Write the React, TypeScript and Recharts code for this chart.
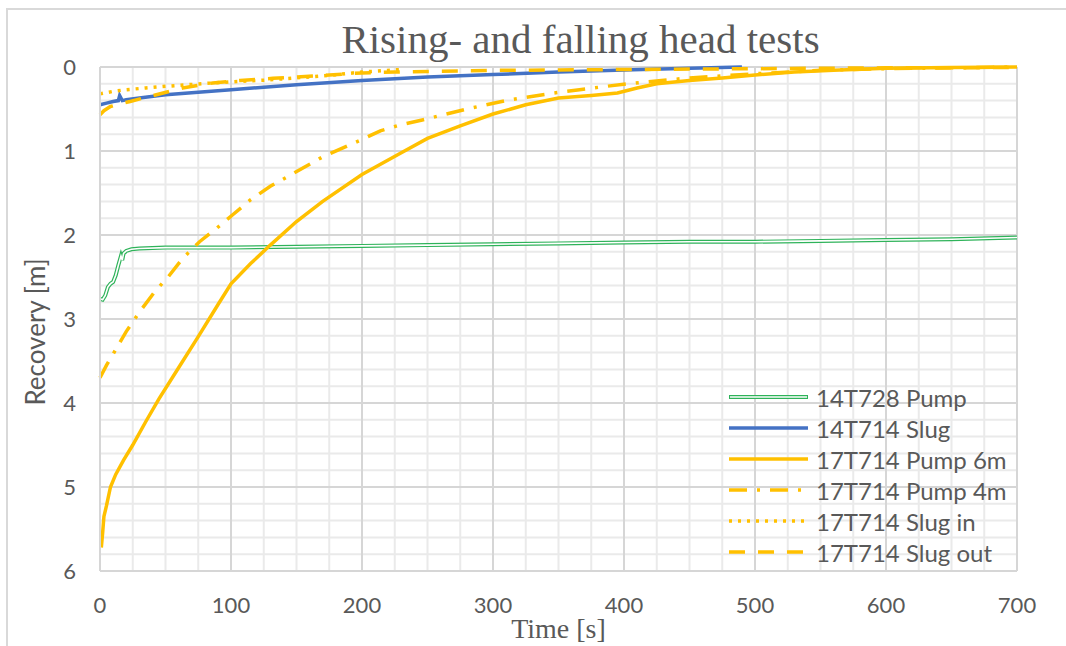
import React from "react"
import { LineChart, Line, XAxis, YAxis, CartesianGrid } from "recharts"

// 14T728 Pump
const pump728Time = [0, 2, 4, 6, 8, 10, 12, 14, 16, 17, 18, 20, 24, 30, 50, 100, 150, 200, 250, 300, 350, 400, 450, 500, 550, 600, 650, 700]
const pump728Rec = [2.76, 2.77, 2.72, 2.62, 2.58, 2.56, 2.48, 2.36, 2.25, 2.3, 2.22, 2.19, 2.17, 2.16, 2.15, 2.15, 2.14, 2.13, 2.12, 2.11, 2.1, 2.09, 2.08, 2.08, 2.07, 2.06, 2.05, 2.03]

// 14T714 Slug
const slug714Time = [0, 5, 10, 14, 15, 17, 20, 30, 50, 75, 100, 150, 200, 250, 300, 350, 400, 450, 490]
const slug714Rec = [0.45, 0.43, 0.41, 0.4, 0.34, 0.4, 0.39, 0.37, 0.33, 0.3, 0.27, 0.21, 0.16, 0.12, 0.09, 0.06, 0.035, 0.015, 0]

// 17T714 Pump 6m
const pump6Time = [1, 2, 3, 5, 8, 12, 18, 25, 35, 45, 60, 75, 90, 100, 115, 130, 150, 170, 200, 230, 250, 275, 300, 325, 350, 375, 395, 410, 425, 450, 475, 500, 530, 560, 600, 650, 700]
const pump6Rec = [5.72, 5.55, 5.35, 5.22, 5.0, 4.85, 4.68, 4.5, 4.22, 3.95, 3.58, 3.21, 2.83, 2.58, 2.34, 2.12, 1.84, 1.6, 1.28, 1.02, 0.85, 0.7, 0.56, 0.45, 0.37, 0.34, 0.31, 0.25, 0.2, 0.16, 0.13, 0.095, 0.06, 0.04, 0.015, 0.005, 0]

// 17T714 Pump 4m
const pump4Time = [0, 5, 11, 20, 30, 42, 52, 63, 76, 89, 102, 115, 130, 145, 170, 199, 214, 229, 246, 280, 313, 346, 366, 402, 450, 500, 550, 600, 650, 700]
const pump4Rec = [3.7, 3.55, 3.39, 3.15, 2.92, 2.67, 2.5, 2.28, 2.08, 1.92, 1.75, 1.58, 1.42, 1.29, 1.07, 0.87, 0.76, 0.69, 0.63, 0.5, 0.39, 0.31, 0.27, 0.2, 0.13, 0.08, 0.04, 0.02, 0.01, 0]

// 17T714 Slug in
const slugInTime = [0, 10, 20, 35, 50, 86, 127, 150, 178, 200, 230]
const slugInRec = [0.32, 0.29, 0.27, 0.25, 0.23, 0.19, 0.155, 0.13, 0.095, 0.06, 0.03]

// 17T714 Slug out
const slugOutTime = [0, 3, 8, 15, 23, 43, 63, 86, 107, 132, 175, 200, 225, 260, 300, 350, 400, 450, 500, 550, 600, 650, 700]
const slugOutRec = [0.57, 0.52, 0.47, 0.44, 0.41, 0.33, 0.25, 0.19, 0.16, 0.135, 0.095, 0.07, 0.06, 0.05, 0.04, 0.035, 0.03, 0.025, 0.02, 0.015, 0.01, 0.01, 0.005]

const timeTicks = [0, 100, 200, 300, 400, 500, 600, 700]
const recTicks = [0, 1, 2, 3, 4, 5, 6]
const minorTimeTicks = [25, 50, 75, 125, 150, 175, 225, 250, 275, 325, 350, 375, 425, 450, 475, 525, 550, 575, 625, 650, 675]
const minorRecTicks = [0.2, 0.4, 0.6, 0.8, 1.2, 1.4, 1.6, 1.8, 2.2, 2.4, 2.6, 2.8, 3.2, 3.4, 3.6, 3.8, 4.2, 4.4, 4.6, 4.8, 5.2, 5.4, 5.6, 5.8]
const TIME_MAX = 700
const REC_MAX = 6

const toPoints = (ts: number[], rs: number[]) => ts.map((t, i) => ({ t, r: rs[i] }))

const GREEN = "#2fb35a"
const BLUE = "#4472c4"
const ORANGE = "#ffc000"
const TEXT = "#595959"
const SANS = "Lato, 'Open Sans', sans-serif"
const SERIF = "'Liberation Serif', 'DejaVu Serif', serif"

const series = [
  { name: "14T728 Pump", data: toPoints(pump728Time, pump728Rec), color: GREEN, dash: undefined, double: true },
  { name: "14T714 Slug", data: toPoints(slug714Time, slug714Rec), color: BLUE, dash: undefined, double: false },
  { name: "17T714 Pump 6m", data: toPoints(pump6Time, pump6Rec), color: ORANGE, dash: undefined, double: false },
  { name: "17T714 Pump 4m", data: toPoints(pump4Time, pump4Rec), color: ORANGE, dash: "18 10 3 10", double: false },
  { name: "17T714 Slug in", data: toPoints(slugInTime, slugInRec), color: ORANGE, dash: "3 6", double: false },
  { name: "17T714 Slug out", data: toPoints(slugOutTime, slugOutRec), color: ORANGE, dash: "16 13", double: false },
]

// minor grid positions, using the axis scale when it is available
const minorRows = ({ yAxis, offset }: any) =>
  minorRecTicks.map((v) =>
    typeof yAxis?.scale === "function" ? yAxis.scale(v) : offset.top + (offset.height * v) / REC_MAX
  )
const minorCols = ({ xAxis, offset }: any) =>
  minorTimeTicks.map((v) =>
    typeof xAxis?.scale === "function" ? xAxis.scale(v) : offset.left + (offset.width * v) / TIME_MAX
  )

// y tick labels right-aligned a fixed gap left of the plot area
const YTick = (props: any) => {
  const { y, payload, labelRight } = props
  return (
    <text x={labelRight} y={y} dy="0.36em" textAnchor="end" fill={TEXT} fontSize={22} fontFamily={SANS}>
      {payload.value}
    </text>
  )
}

const ChartLegend = () => (
  <div style={{ position: "absolute", left: 722, top: 382 }}>
    {series.map((s) => (
      <div key={s.name} style={{ display: "flex", alignItems: "center", height: 31 }}>
        <svg width={94} height={31}>
          {s.double ? (
            <>
              <line x1={7} x2={86} y1={15} y2={15} stroke={s.color} strokeWidth={4} />
              <line x1={8} x2={85} y1={15} y2={15} stroke="#fff" strokeWidth={1.6} />
            </>
          ) : (
            <line x1={7} x2={86} y1={15} y2={15} stroke={s.color} strokeWidth={3.5} strokeDasharray={s.dash} />
          )}
        </svg>
        <span style={{ fontFamily: SANS, fontSize: 24, color: TEXT, whiteSpace: "nowrap" }}>{s.name}</span>
      </div>
    ))}
  </div>
)

const App: React.FC = () => {
  return (
    <div style={{ position: "absolute", left: 0, top: 0, width: 1066, height: 646, overflow: "hidden", background: "#fff" }}>
      <div style={{ position: "absolute", left: 6, top: 8, width: 1100, height: 700, border: "2px solid #d9d9d9" }} />
      <div
        style={{
          position: "absolute",
          left: 122,
          width: 917,
          top: 19,
          textAlign: "center",
          fontFamily: SERIF,
          fontSize: 41,
          lineHeight: "41px",
          color: TEXT,
        }}
      >
        Rising- and falling head tests
      </div>
      <div style={{ position: "absolute", left: 0, top: 0 }}>
        <LineChart width={1066} height={646} margin={{ top: 67, right: 49, bottom: 35, left: 40 }}>
          <CartesianGrid
            stroke="#eaeaea"
            strokeWidth={2}
            horizontalCoordinatesGenerator={minorRows}
            verticalCoordinatesGenerator={minorCols}
          />
          <CartesianGrid stroke="#d6d6d6" strokeWidth={2} />
          <XAxis
            dataKey="t"
            type="number"
            domain={[0, TIME_MAX]}
            ticks={timeTicks}
            height={40}
            tickLine={false}
            axisLine={{ stroke: "#d6d6d6", strokeWidth: 2 }}
            tickSize={26}
            tickMargin={0}
            tick={{ fill: TEXT, fontSize: 22, fontFamily: SANS }}
            label={{ value: "Time [s]", position: "center", dy: 37, fill: TEXT, fontSize: 28, fontFamily: SERIF }}
          />
          <YAxis
            type="number"
            domain={[0, REC_MAX]}
            ticks={recTicks}
            reversed
            width={60}
            tickLine={false}
            axisLine={{ stroke: "#d6d6d6", strokeWidth: 2 }}
            tickSize={0}
            tickMargin={0}
            tick={<YTick labelRight={76} />}
            label={{ value: "Recovery [m]", angle: -90, position: "center", dx: -34, dy: 13, fill: TEXT, fontSize: 26, fontFamily: SANS }}
          />
          {series.map((s) =>
            s.double ? (
              <React.Fragment key={s.name}>
                <Line data={s.data} dataKey="r" type="linear" stroke={s.color} strokeWidth={4} dot={false} isAnimationActive={false} />
                <Line data={s.data} dataKey="r" type="linear" stroke="#fff" strokeWidth={1.6} dot={false} isAnimationActive={false} />
              </React.Fragment>
            ) : (
              <Line
                key={s.name}
                data={s.data}
                dataKey="r"
                name={s.name}
                type="linear"
                stroke={s.color}
                strokeWidth={3.5}
                strokeDasharray={s.dash}
                dot={false}
                isAnimationActive={false}
              />
            )
          )}
        </LineChart>
      </div>
      <ChartLegend />
    </div>
  )
}

export default App
